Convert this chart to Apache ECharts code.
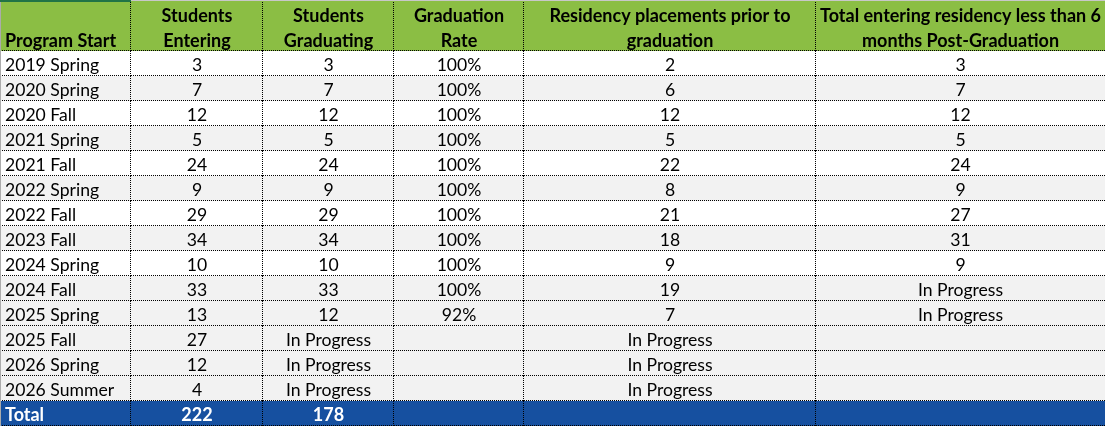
<!DOCTYPE html>
<html>
<head>
<meta charset="utf-8">
<script src="https://cdn.jsdelivr.net/npm/echarts@6/dist/echarts.min.js"></script>
<style>
html,body{margin:0;padding:0;background:#fff;}
#chart{width:1105px;height:427px;}
</style>
</head>
<body>
<div id="chart"></div>
<script>
// ---------- data ----------
const headers = ['Program Start', 'Students\nEntering', 'Students\nGraduating', 'Graduation\nRate', 'Residency placements prior to\ngraduation', 'Total entering residency less than 6\nmonths Post-Graduation'];
const programStart = ['2019 Spring','2020 Spring','2020 Fall','2021 Spring','2021 Fall','2022 Spring','2022 Fall','2023 Fall','2024 Spring','2024 Fall','2025 Spring','2025 Fall','2026 Spring','2026 Summer'];
const studentsEntering = [3,7,12,5,24,9,29,34,10,33,13,27,12,4];
const studentsGraduating = [3,7,12,5,24,9,29,34,10,33,12,'In Progress','In Progress','In Progress'];
const graduationRate = [100,100,100,100,100,100,100,100,100,100,92,null,null,null];
const residencyPrior = [2,6,12,5,22,8,21,18,9,19,7,'In Progress','In Progress','In Progress'];
const residencyWithin6Months = [3,7,12,5,24,9,27,31,9,'In Progress','In Progress',null,null,null];
const totalRow = ['Total', 222, 178, null, null, null];

// ---------- layout / style ----------
const W = 1105, H = 427;
const colEdges = [0,131,263,394,524,816,1105];
const headerHeight = 51, rowHeight = 25;
const shadedRows = [1,3,5,7,9,10,11,12,13];
const C = { header:'#8BBE44', total:'#1650A0', shade:'#F2F2F2', plain:'#FFFFFF' };
const FONT = 'Lato, "Open Sans", sans-serif';

const nData = programStart.length;
const rowEdges = [0, headerHeight];
for (let i = 0; i <= nData; i++) rowEdges.push(headerHeight + (i + 1) * rowHeight);

function fmt(v, col) {
  if (v === null || v === undefined) return '';
  if (col === 3 && typeof v === 'number') return v + '%';
  return String(v);
}

const columns = [programStart, studentsEntering, studentsGraduating, graduationRate, residencyPrior, residencyWithin6Months];
const cells = [];
headers.forEach((h, c) => cells.push({ c, r: 0, text: h, kind: 'header' }));
for (let i = 0; i < nData; i++) {
  columns.forEach((arr, c) => cells.push({ c, r: i + 1, text: fmt(arr[i], c), kind: 'data', shaded: shadedRows.includes(i) }));
}
totalRow.forEach((v, c) => cells.push({ c, r: nData + 1, text: fmt(v, c), kind: 'total' }));

function renderItem(params, api) {
  const cell = cells[params.dataIndex];
  const p0 = api.coord([colEdges[cell.c], rowEdges[cell.r]]);
  const p1 = api.coord([colEdges[cell.c + 1], rowEdges[cell.r + 1]]);
  const x0 = Math.round(p0[0]), y0 = Math.round(p0[1]);
  const x1 = Math.round(p1[0]), y1 = Math.round(p1[1]);
  let fill = C.plain;
  if (cell.kind === 'header') fill = C.header;
  else if (cell.kind === 'total') fill = C.total;
  else if (cell.shaded) fill = C.shade;

  const children = [{
    type: 'rect',
    shape: { x: x0, y: y0, width: x1 - x0, height: y1 - y0 },
    style: { fill: fill }
  }];
  const dotted = { stroke: '#000', lineWidth: 1, lineDash: [1, 1] };
  children.push({ type: 'line', shape: { x1: x0, y1: y1 - 0.5, x2: x1, y2: y1 - 0.5 }, style: dotted });
  if (cell.c < colEdges.length - 2) {
    children.push({ type: 'line', shape: { x1: x1 - 0.5, y1: y0, x2: x1 - 0.5, y2: y1 }, style: dotted });
  }
  if (cell.c === 0) {
    children.push({ type: 'line', shape: { x1: 0.5, y1: y0, x2: 0.5, y2: y1 }, style: { stroke: '#ABABAB', lineWidth: 1 } });
  }
  if (cell.kind === 'header') {
    if (cell.c === 0) {
      children.push({ type: 'rect', shape: { x: x0, y: 0, width: x1 - x0, height: 2 }, style: { fill: '#217346' } });
    } else {
      children.push({ type: 'line', shape: { x1: x0, y1: 0.5, x2: x1, y2: 0.5 }, style: { stroke: '#C8C8C8', lineWidth: 1 } });
    }
  }

  if (cell.text) {
    const left = cell.c === 0;
    const isHeader = cell.kind === 'header';
    const bold = isHeader || cell.kind === 'total';
    children.push({
      type: 'text',
      x: left ? x0 + 5 : (x0 + x1) / 2,
      y: isHeader ? y1 + 2 : (y0 + y1) / 2 + 2,
      style: {
        text: cell.text,
        fill: cell.kind === 'total' ? '#FFFFFF' : '#000000',
        fontFamily: FONT,
        fontSize: bold ? 18 : 17.6,
        fontWeight: bold ? 'bold' : 'normal',
        align: left ? 'left' : 'center',
        verticalAlign: isHeader ? 'bottom' : 'middle',
        lineHeight: 24.5
      }
    });
  }
  return { type: 'group', children };
}

const chart = echarts.init(document.getElementById('chart'), null, { renderer: 'canvas' });
chart.setOption({
  animation: false,
  grid: { left: 0, right: 0, top: 0, bottom: 0, containLabel: false },
  xAxis: { type: 'value', min: 0, max: W, show: false },
  yAxis: { type: 'value', min: 0, max: H, inverse: true, show: false },
  series: [{
    type: 'custom',
    silent: true,
    renderItem: renderItem,
    data: cells.map(c => [c.c, c.r]),
    clip: false
  }]
});
</script>
</body>
</html>
